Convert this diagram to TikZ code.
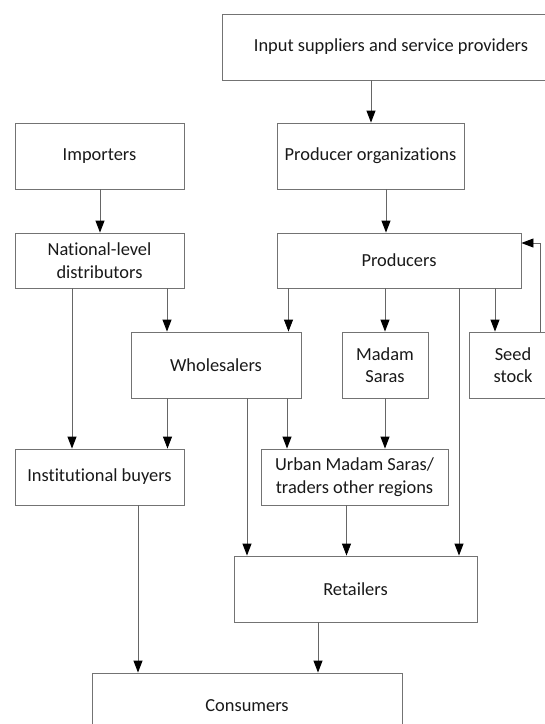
\documentclass[tikz,border=0pt]{standalone}
\usepackage{fontspec}
\setmainfont{Carlito}[Ligatures={NoCommon}]
\usetikzlibrary{arrows.meta}
\begin{document}
\begin{tikzpicture}[x=1pt,y=-1pt,
  box/.style={draw=black!55, line width=0.9pt, rectangle, inner sep=0pt, align=center,
    font=\fontsize{18.4}{22.5}\selectfont, text=black!90},
  arr/.style={draw=black!60, line width=0.9pt, -{Triangle[length=12pt,width=9pt,black]}},
  ln/.style={draw=black!60, line width=0.9pt}]
\useasboundingbox (0,0) rectangle (545,724);
\fill[white] (0,0) rectangle (545,724);
\node[box, minimum width=338pt, minimum height=66pt] (inp) at (391,47) {Input suppliers and service providers};
\node[box, minimum width=169pt, minimum height=66pt] (imp) at (99.5,156) {Importers};
\node[box, minimum width=187pt, minimum height=66pt] (po) at (370.5,156) {Producer organizations};
\node[box, minimum width=169pt, minimum height=55pt] (nat) at (99.5,260.5) {National-level\\distributors};
\node[box, minimum width=244pt, minimum height=55pt] (prod) at (399,260.5) {Producers};
\node[box, minimum width=170pt, minimum height=66pt] (wh) at (216,365) {Wholesalers};
\node[box, minimum width=86pt, minimum height=66pt] (ms) at (385,365) {Madam\\Saras};
\node[box, minimum width=88pt, minimum height=66pt] (seed) at (513,365) {Seed\\stock};
\node[box, minimum width=169pt, minimum height=56pt] (inst) at (99.5,477) {Institutional buyers};
\node[box, minimum width=187pt, minimum height=56pt] (urb) at (354.5,477) {Urban Madam Saras/\\traders other regions};
\node[box, minimum width=243pt, minimum height=66pt] (ret) at (355.5,589) {Retailers};
\node[box, minimum width=310pt, minimum height=66pt] (con) at (247,706) {Consumers};
% arrows
\draw[arr] (371,0 |- inp.south) -- (371,0 |- po.north);
\draw[arr] (100,0 |- imp.south) -- (100,0 |- nat.north);
\draw[arr] (386,0 |- po.south) -- (386,0 |- prod.north);
\draw[arr] (72,0 |- nat.south) -- (72,0 |- inst.north);
\draw[arr] (167,0 |- nat.south) -- (167,0 |- wh.north);
\draw[arr] (288.5,0 |- prod.south) -- (288.5,0 |- wh.north);
\draw[arr] (385,0 |- prod.south) -- (385,0 |- ms.north);
\draw[arr] (495,0 |- prod.south) -- (495,0 |- seed.north);
\draw[arr] (459,0 |- prod.south) -- (459,0 |- ret.north);
\draw[arr] (540,0 |- seed.north) |- (prod.east |- 0,243);
\draw[arr] (167.5,0 |- wh.south) -- (167.5,0 |- inst.north);
\draw[arr] (247,0 |- wh.south) -- (247,0 |- ret.north);
\draw[arr] (287,0 |- wh.south) -- (287,0 |- urb.north);
\draw[arr] (385,0 |- ms.south) -- (385,0 |- urb.north);
\draw[arr] (346.5,0 |- urb.south) -- (346.5,0 |- ret.north);
\draw[arr] (138,0 |- inst.south) -- (138,0 |- con.north);
\draw[arr] (318,0 |- ret.south) -- (318,0 |- con.north);
\end{tikzpicture}
\end{document}
